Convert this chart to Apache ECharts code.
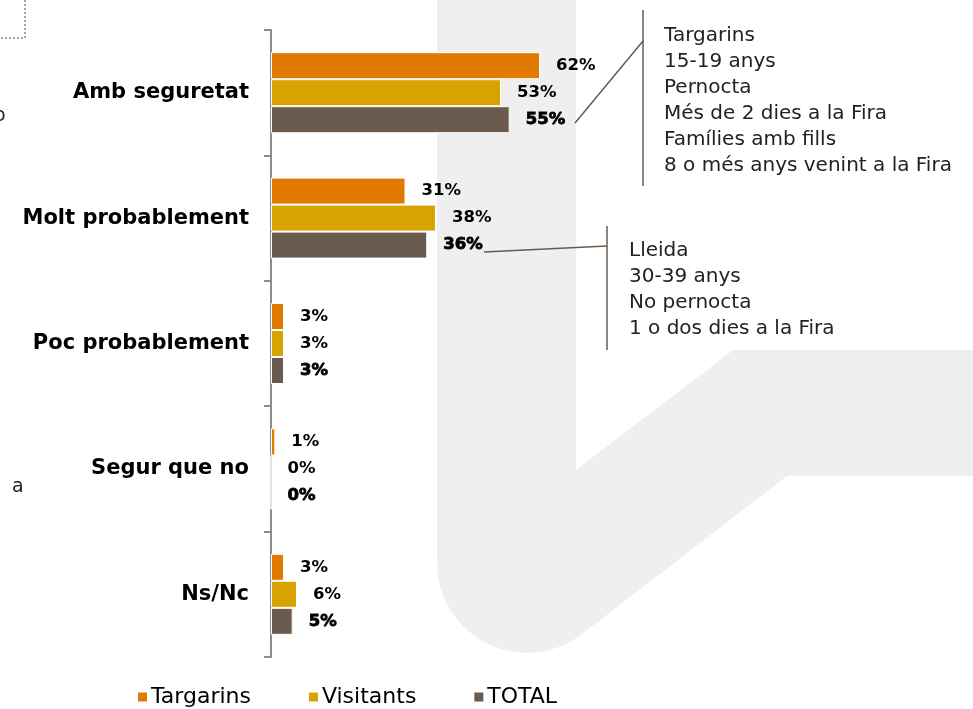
<!DOCTYPE html>
<html>
<head>
<meta charset="utf-8">
<script src="https://cdn.jsdelivr.net/npm/echarts@6/dist/echarts.min.js"></script>
<style>
  html, body { margin: 0; padding: 0; background: #fff; }
  #chart { width: 973px; height: 709px; }
</style>
</head>
<body>
<div id="chart"></div>
<script>
const categories = ['Amb seguretat', 'Molt probablement', 'Poc probablement', 'Segur que no', 'Ns/Nc']
const seriesNames = ['Targarins', 'Visitants', 'TOTAL']
const targarins = [62, 31, 3, 1, 3]
const visitants = [53, 38, 3, 0, 6]
const total = [55, 36, 3, 0, 5]
const colorList = ['#E27A00', '#D8A300', '#6B5B4E']

const note1 = ['Targarins', '15-19 anys', 'Pernocta', 'Més de 2 dies a la Fira', 'Famílies amb fills', '8 o més anys venint a la Fira']
const note2 = ['Lleida', '30-39 anys', 'No pernocta', '1 o dos dies a la Fira']

const fontFam = '"DejaVu Sans", "Noto Sans", sans-serif'

// background watermark outline (rounded corner at the bottom left)
function watermarkPoints() {
  let pts = [[437, 0], [576, 0], [576, 470], [733, 350], [973, 350], [973, 476], [787, 476], [582, 634]]
  let cx = 527, cy = 563, r = 90
  let a0 = Math.atan2(634 - cy, 582 - cx)
  for (let i = 1; i <= 16; i++) {
    let a = a0 + (Math.PI - a0) * i / 16
    pts.push([cx + r * Math.cos(a), cy + r * Math.sin(a)])
  }
  return pts
}

let chart = echarts.init(document.getElementById('chart'))

function makeSeries(name, data, index) {
  return {
    name: name,
    type: 'bar',
    data: data,
    barWidth: 27,
    barGap: '0%',
    itemStyle: {
      color: colorList[index],
      borderColor: '#fff',
      borderWidth: 1
    },
    label: {
      show: true,
      position: 'right',
      distance: 16,
      formatter: '{c}%',
      color: '#000',
      fontFamily: fontFam,
      fontWeight: 'bold',
      fontSize: 16.5,
      textBorderColor: index === 2 ? '#000' : 'transparent',
      textBorderWidth: index === 2 ? 0.8 : 0
    }
  }
}

let option = {
  animation: false,
  backgroundColor: '#fff',
  graphic: [
    {
      type: 'polygon',
      z: -10,
      silent: true,
      shape: { points: watermarkPoints() },
      style: { fill: '#efefef' }
    },
    // dotted box corner top-left
    {
      type: 'polyline',
      shape: { points: [[25, 0], [25, 38], [0, 38]] },
      style: { stroke: '#8a8a8a', lineWidth: 1.5, lineDash: [2, 2], fill: null }
    },
    { type: 'text', left: -6, top: 107, style: { text: 'o', fontSize: 19, fontFamily: fontFam, fill: '#222' } },
    { type: 'text', left: 12, top: 478, style: { text: 'a', fontSize: 19, fontFamily: fontFam, fill: '#222' } },
    // note 1
    {
      type: 'line',
      shape: { x1: 643, y1: 10, x2: 643, y2: 186 },
      style: { stroke: '#6B5B4E', lineWidth: 1.5 }
    },
    {
      type: 'line',
      shape: { x1: 643, y1: 41, x2: 575, y2: 123 },
      style: { stroke: '#6B5B4E', lineWidth: 1.5 }
    },
    {
      type: 'text',
      left: 664,
      top: 23,
      style: { text: note1.join('\n'), fontSize: 20, lineHeight: 25.9, fontFamily: fontFam, fill: '#222' }
    },
    // note 2
    {
      type: 'line',
      shape: { x1: 607, y1: 226, x2: 607, y2: 350 },
      style: { stroke: '#6B5B4E', lineWidth: 1.5 }
    },
    {
      type: 'line',
      shape: { x1: 607, y1: 246, x2: 484, y2: 252 },
      style: { stroke: '#6B5B4E', lineWidth: 1.5 }
    },
    {
      type: 'text',
      left: 629,
      top: 238,
      style: { text: note2.join('\n'), fontSize: 20, lineHeight: 25.8, fontFamily: fontFam, fill: '#222' }
    }
  ],
  legend: {
    data: seriesNames,
    left: 131,
    top: 681,
    icon: 'rect',
    itemWidth: 11,
    itemHeight: 11,
    itemGap: 56,
    textStyle: {
      color: '#000',
      fontSize: 22,
      fontFamily: fontFam,
      padding: [0, 0, 0, -2]
    }
  },
  grid: {
    left: 271,
    right: 268,
    top: 30,
    bottom: 52,
    containLabel: false
  },
  xAxis: {
    type: 'value',
    min: 0,
    max: 100,
    show: false
  },
  yAxis: {
    type: 'category',
    inverse: true,
    data: categories,
    axisLine: {
      show: true,
      lineStyle: { color: '#8c8c8c', width: 2 }
    },
    axisTick: {
      show: true,
      length: 7,
      lineStyle: { color: '#8c8c8c', width: 2 }
    },
    axisLabel: {
      margin: 22,
      color: '#000',
      fontSize: 21,
      fontWeight: 'bold',
      fontFamily: fontFam
    },
    splitLine: { show: false }
  },
  series: [
    makeSeries(seriesNames[0], targarins, 0),
    makeSeries(seriesNames[1], visitants, 1),
    makeSeries(seriesNames[2], total, 2)
  ]
}

chart.setOption(option)
window.addEventListener('resize', () => {
  chart.resize()
})
</script>
</body>
</html>
